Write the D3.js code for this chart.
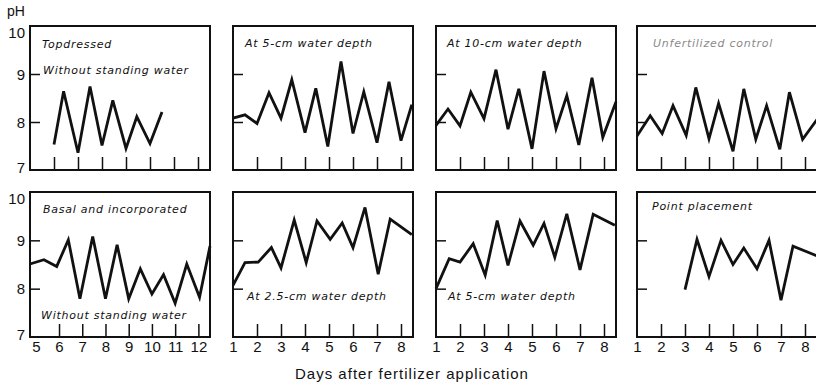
<!DOCTYPE html>
<html>
<head>
<meta charset="utf-8">
<script src="https://cdn.jsdelivr.net/npm/d3@7"></script>
<style>
  body { margin: 0; background: #fff; }
  svg { display: block; }
  .tick-label { font-family: "Liberation Sans", Arial, sans-serif; font-size: 15px; fill: #111; }
  .panel-label { font-family: "DejaVu Sans", sans-serif; font-style: italic; font-size: 11px; letter-spacing: 0.75px; fill: #111; }
</style>
</head>
<body>
<div id="chart"></div>
<script>
// 每個小圖的數據 (天數, pH)
const topdressedDays = [6, 6.4, 7, 7.5, 8, 8.45, 9, 9.45, 10, 10.5];
const topdressedPH = [7.53, 8.64, 7.36, 8.74, 7.51, 8.45, 7.45, 8.11, 7.55, 8.21];

const top5cmDays = [1, 1.5, 2, 2.5, 3, 3.45, 4, 4.45, 4.95, 5.5, 6, 6.45, 7, 7.5, 8, 8.45];
const top5cmPH = [8.08, 8.15, 7.97, 8.61, 8.08, 8.88, 7.78, 8.7, 7.49, 9.26, 7.76, 8.63, 7.57, 8.84, 7.61, 8.36];

const top10cmDays = [1, 1.5, 2, 2.45, 3, 3.5, 4, 4.45, 5, 5.5, 6, 6.45, 6.95, 7.5, 7.95, 8.5];
const top10cmPH = [7.93, 8.27, 7.92, 8.62, 8.07, 9.09, 7.85, 8.69, 7.44, 9.06, 7.86, 8.55, 7.52, 8.92, 7.68, 8.42];

const controlDays = [1, 1.55, 2.05, 2.5, 3.05, 3.45, 4, 4.4, 5, 5.45, 5.95, 6.4, 6.95, 7.35, 7.9, 8.5];
const controlPH = [7.71, 8.13, 7.76, 8.34, 7.72, 8.72, 7.65, 8.39, 7.39, 8.69, 7.64, 8.34, 7.43, 8.62, 7.64, 8.05];

const basalDays = [4.75, 5.35, 5.9, 6.4, 6.9, 7.45, 8, 8.5, 9, 9.5, 10, 10.5, 11, 11.5, 12.05, 12.5];
const basalPH = [8.51, 8.6, 8.46, 9.01, 7.79, 9.08, 7.79, 8.91, 7.79, 8.41, 7.89, 8.29, 7.7, 8.51, 7.82, 8.88];

const bottom25cmDays = [1, 1.5, 2.05, 2.6, 3, 3.55, 4.05, 4.5, 5.05, 5.55, 6, 6.5, 7.05, 7.55, 8.45];
const bottom25cmPH = [8.07, 8.54, 8.55, 8.85, 8.43, 9.42, 8.54, 9.4, 9.02, 9.36, 8.85, 9.68, 8.3, 9.44, 9.12];

const bottom5cmDays = [1, 1.55, 2, 2.55, 3.05, 3.55, 4, 4.5, 5.05, 5.5, 5.95, 6.45, 7, 7.55, 8.45];
const bottom5cmPH = [8.0, 8.62, 8.55, 8.93, 8.28, 9.41, 8.48, 9.4, 8.9, 9.35, 8.65, 9.55, 8.39, 9.54, 9.31];

const pointDays = [3, 3.5, 4, 4.5, 5, 5.45, 6, 6.5, 7, 7.5, 8.5];
const pointPH = [7.98, 9.02, 8.25, 9.0, 8.5, 8.84, 8.41, 9.0, 7.76, 8.88, 8.68];

// 刻度
const phTicks = [7, 8, 9, 10];
const phInnerTicks = [8, 9];
const lateDays = [5, 6, 7, 8, 9, 10, 11, 12];
const earlyDays = [1, 2, 3, 4, 5, 6, 7, 8];

const panelTitles = [
  ["Topdressed", "Without standing water"],
  ["At 5-cm water depth"],
  ["At 10-cm water depth"],
  ["Unfertilized control"],
  ["Basal and incorporated", "Without standing water"],
  ["At 2.5-cm water depth"],
  ["At 5-cm water depth"],
  ["Point placement"]
];

const width = 816;
const height = 390;
const colLeft = [30, 233, 436, 637];
const rowTop = [26, 192];
const rowHeight = [144, 145];
const panelWidth = 180;

// 標題位置 (相對於小圖左上角)
const labelPos = [[[12, 22], [13, 48]], [[12, 21]], [[11, 21]], [[16, 21]],
                  [[13, 21], [11, 127]], [[14, 108]], [[12, 108]], [[15, 18]]];

const panels = [
  { days: topdressedDays, ph: topdressedPH, domain: [5, 12.5], ticks: lateDays },
  { days: top5cmDays, ph: top5cmPH, domain: [1, 8.5], ticks: earlyDays },
  { days: top10cmDays, ph: top10cmPH, domain: [1, 8.5], ticks: earlyDays },
  { days: controlDays, ph: controlPH, domain: [1, 8.5], ticks: earlyDays },
  { days: basalDays, ph: basalPH, domain: [4.75, 12.5], ticks: lateDays },
  { days: bottom25cmDays, ph: bottom25cmPH, domain: [1, 8.5], ticks: earlyDays },
  { days: bottom5cmDays, ph: bottom5cmPH, domain: [1, 8.5], ticks: earlyDays },
  { days: pointDays, ph: pointPH, domain: [1, 8.5], ticks: earlyDays }
];

const svg = d3.create("svg")
  .attr("width", width)
  .attr("height", height)
  .attr("viewBox", [0, 0, width, height]);

panels.forEach((p, i) => {
  const row = Math.floor(i / 4);
  const col = i % 4;
  const h = rowHeight[row];

  const x = d3.scaleLinear().domain(p.domain).range([0, panelWidth]);
  const y = d3.scaleLinear().domain([7, 10]).range([h, 0]);

  const g = svg.append("g").attr("transform", `translate(${colLeft[col]},${rowTop[row]})`);

  // 內側刻度 (x)
  const inner = p.ticks.filter(d => d > p.domain[0] + 0.5 && d < p.domain[1]);
  g.append("g")
    .attr("transform", `translate(0,${h})`)
    .call(d3.axisBottom(x).tickValues(inner).tickSizeInner(-13).tickSizeOuter(0).tickFormat(""))
    .call(a => a.select(".domain").remove())
    .call(a => a.selectAll("line").attr("stroke", "#111").attr("stroke-width", 1.5));

  // 內側刻度 (y)
  g.append("g")
    .call(d3.axisLeft(y).tickValues(phInnerTicks).tickSizeInner(-10).tickSizeOuter(0).tickFormat(""))
    .call(a => a.select(".domain").remove())
    .call(a => a.selectAll("line").attr("stroke", "#111").attr("stroke-width", 1.5));

  // 底列的 x 軸數字
  if (row === 1) {
    g.append("g")
      .attr("transform", `translate(0,${h})`)
      .call(d3.axisBottom(x).tickValues(p.ticks).tickSize(0).tickPadding(4).tickFormat(d3.format("d")))
      .call(a => a.select(".domain").remove())
      .call(a => a.selectAll("text").attr("class", "tick-label").attr("fill", null));
  }

  // 左列的 pH 數字
  if (col === 0) {
    g.append("g")
      .call(d3.axisLeft(y).tickValues(phTicks).tickSize(0).tickPadding(5).tickFormat(d3.format("d")))
      .call(a => a.select(".domain").remove())
      .call(a => a.selectAll("text").attr("class", "tick-label").attr("fill", null)
        .attr("dy", d => d === 10 ? "0.75em" : d === 7 ? "0.15em" : "0.35em"));
  }

  // 框
  g.append("rect")
    .attr("width", panelWidth)
    .attr("height", h)
    .attr("fill", "none")
    .attr("stroke", "#111")
    .attr("stroke-width", 2);

  // 折線
  const line = d3.line()
    .x((d, j) => x(p.days[j]))
    .y(d => y(d));

  g.append("path")
    .datum(p.ph)
    .attr("d", line)
    .attr("fill", "none")
    .attr("stroke", "#111")
    .attr("stroke-width", 2.8)
    .attr("stroke-linejoin", "miter");

  // 標題文字
  g.selectAll(".panel-label")
    .data(panelTitles[i])
    .join("text")
    .attr("class", "panel-label")
    .attr("x", (d, j) => labelPos[i][j][0])
    .attr("y", (d, j) => labelPos[i][j][1])
    .style("fill", i === 3 ? "#8a8a8a" : null)
    .text(d => d);
});

svg.append("text")
  .attr("x", 7)
  .attr("y", 16)
  .attr("class", "tick-label")
  .style("font-size", "14px")
  .text("pH");

svg.append("text")
  .attr("x", 412)
  .attr("y", 379)
  .attr("text-anchor", "middle")
  .attr("class", "tick-label")
  .style("font-size", "15px")
  .style("letter-spacing", "1px")
  .text("Days after fertilizer application");

d3.select("#chart").node().appendChild(svg.node());
</script>
</body>
</html>
